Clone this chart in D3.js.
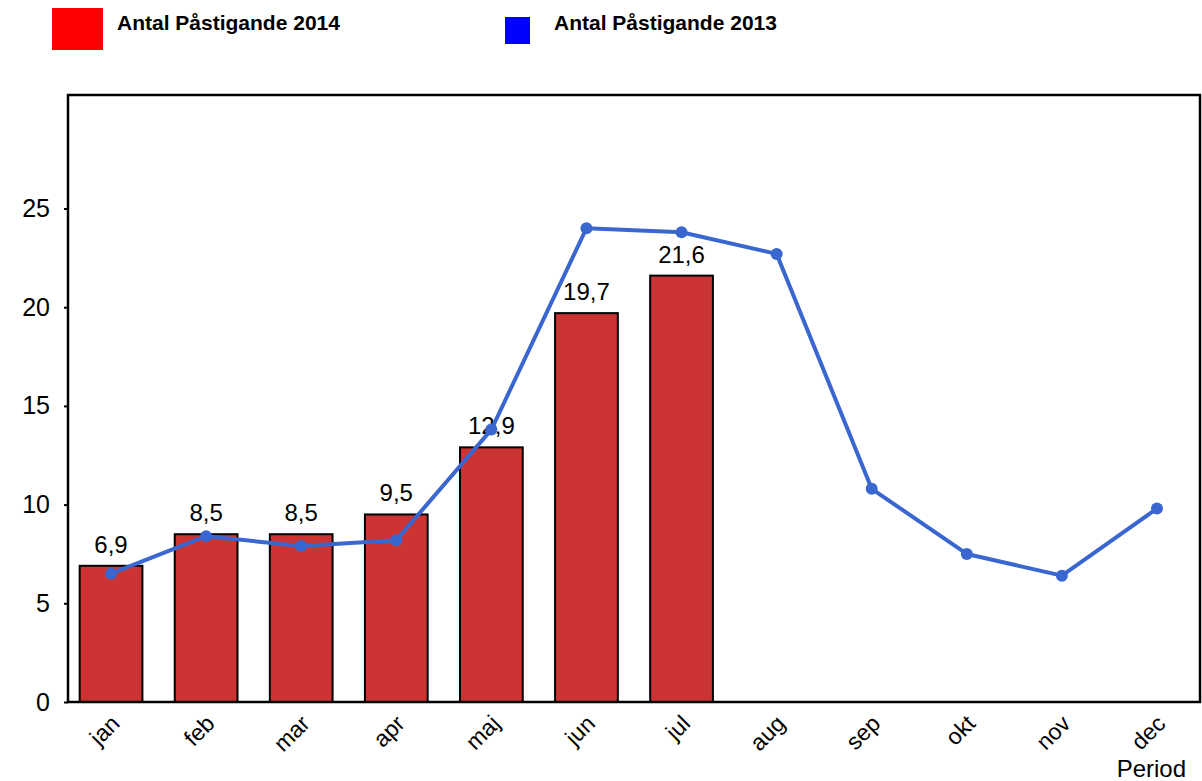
<!DOCTYPE html>
<html><head><meta charset="utf-8">
<script src="https://cdn.jsdelivr.net/npm/d3@7"></script>
<style>body{margin:0;background:#fff}svg{display:block;font-family:Arial,"Liberation Sans",sans-serif}</style>
</head><body><svg id="c" width="1202" height="781"></svg>
<script>
const months = ["jan","feb","mar","apr","maj","jun","jul","aug","sep","okt","nov","dec"];
const values2014 = [6.9, 8.5, 8.5, 9.5, 12.9, 19.7, 21.6];
const values2013 = [6.5, 8.4, 7.9, 8.2, 13.8, 24.0, 23.8, 22.7, 10.8, 7.5, 6.4, 9.8];
const yTicks = [0, 5, 10, 15, 20, 25];
const labels2014 = ["6,9","8,5","8,5","9,5","12,9","19,7","21,6"];
const seriesNames = ["Antal Påstigande 2014", "Antal Påstigande 2013"];

const svg = d3.select("#c");
const L = 68, R = 1200, T = 95, B = 702;
const x = d3.scaleBand().domain(months).range([63.5, 1204.5]).paddingInner(0.34).paddingOuter(0.17);
const y = d3.scaleLinear().domain([0, 30.75]).range([B, T]);

// bars
svg.selectAll("rect.bar").data(values2014).join("rect").attr("class","bar")
  .attr("x",(d,i)=>x(months[i])).attr("width",x.bandwidth())
  .attr("y",d=>y(d)).attr("height",d=>B-y(d))
  .attr("fill","#cc3333").attr("stroke","#000").attr("stroke-width",2);

// frame
svg.append("rect").attr("x",L).attr("y",T).attr("width",R-L).attr("height",B-T)
  .attr("fill","none").attr("stroke","#000").attr("stroke-width",2.5);

// y axis
const ya = svg.append("g").attr("transform",`translate(${L},0)`)
  .call(d3.axisLeft(y).tickValues(yTicks).tickSize(4).tickPadding(14));
ya.select(".domain").remove();
ya.selectAll("line").attr("stroke","#000").attr("stroke-width",2);
ya.selectAll("text").attr("font-size",25).attr("fill","#000")
  .attr("font-family","Arial, Liberation Sans, sans-serif");

// x axis
const xa = svg.append("g").attr("transform",`translate(0,${B})`)
  .call(d3.axisBottom(x).tickSize(0).tickPadding(0));
xa.select(".domain").remove();
xa.selectAll("text").attr("font-size",23).attr("fill","#000")
  .attr("font-family","Arial, Liberation Sans, sans-serif")
  .attr("text-anchor","end").attr("dy",0)
  .attr("transform","translate(10,23) rotate(-45)");

svg.append("text").attr("x",1186).attr("y",777).attr("text-anchor","end")
  .attr("font-size",24).text("Period");

// value labels
svg.selectAll("text.val").data(values2014).join("text").attr("class","val")
  .attr("x",(d,i)=>x(months[i])+x.bandwidth()/2).attr("y",d=>y(d)-13)
  .attr("text-anchor","middle").attr("font-size",24).attr("fill","#000")
  .text((d,i)=>labels2014[i]);

// line
const cx = (d,i)=>x(months[i])+x.bandwidth()/2;
svg.append("path").datum(values2013)
  .attr("d", d3.line().x(cx).y(d=>y(d)))
  .attr("fill","none").attr("stroke","#3a67cf").attr("stroke-width",4).attr("stroke-linejoin","round");
svg.selectAll("circle.pt").data(values2013).join("circle").attr("class","pt")
  .attr("cx",cx).attr("cy",d=>y(d)).attr("r",6).attr("fill","#3a67cf");

// legend
svg.append("rect").attr("x",52).attr("y",8).attr("width",51).attr("height",42).attr("fill","#ff0000");
svg.append("text").attr("x",117).attr("y",30).attr("font-size",21).attr("font-weight","bold").text(seriesNames[0]);
svg.append("rect").attr("x",505).attr("y",17).attr("width",25).attr("height",27).attr("fill","#0000ff");
svg.append("text").attr("x",554).attr("y",30).attr("font-size",21).attr("font-weight","bold").text(seriesNames[1]);
</script></body></html>
